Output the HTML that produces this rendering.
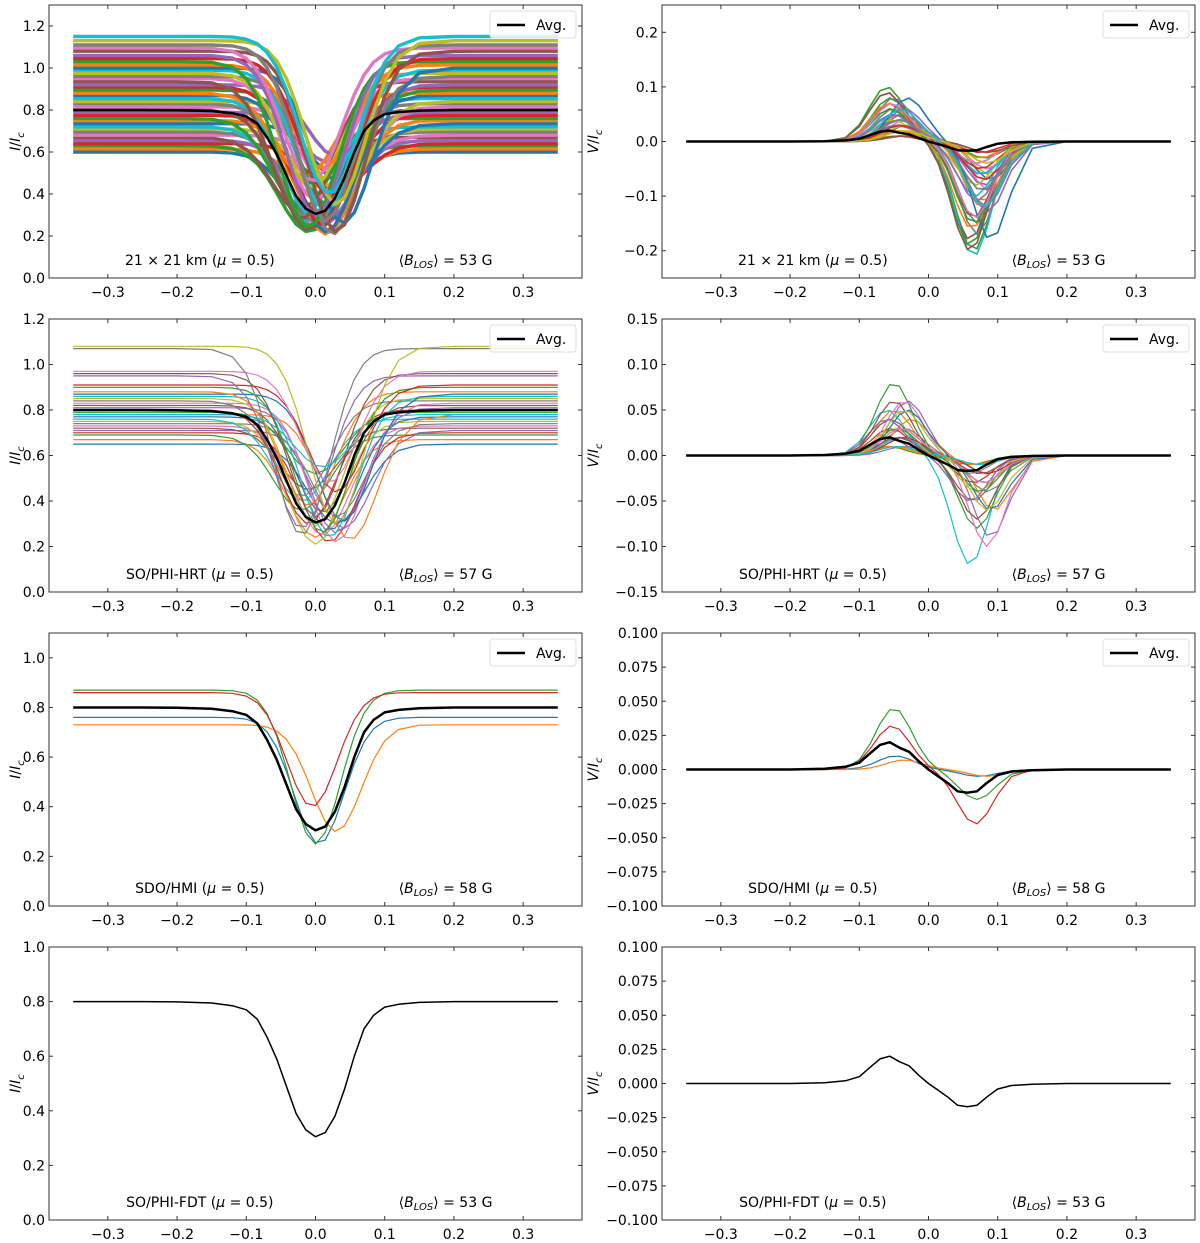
<!DOCTYPE html>
<html><head><meta charset="utf-8"><style>
html,body{margin:0;padding:0;background:#fff;}
svg{display:block;font-family:"DejaVu Sans","Liberation Sans",sans-serif;}
</style></head><body>
<svg id="fig" width="1200" height="1243" viewBox="0 0 1200 1243" xmlns="http://www.w3.org/2000/svg"></svg>
<script>
// Shared wavelength grid and average profiles
const wl = [-0.35,-0.3,-0.25,-0.2,-0.15,-0.12,-0.1,-0.084,-0.07,-0.056,-0.042,-0.028,-0.014,0,0.014,0.028,0.042,0.056,0.07,0.084,0.1,0.12,0.15,0.2,0.25,0.3,0.35];
const avgI = [0.80,0.80,0.80,0.799,0.795,0.785,0.77,0.735,0.67,0.59,0.49,0.39,0.33,0.305,0.32,0.38,0.48,0.60,0.70,0.75,0.78,0.79,0.797,0.80,0.80,0.80,0.80];
const avgV = [0,0,0,0,0.0005,0.002,0.005,0.012,0.018,0.02,0.016,0.013,0.006,0,-0.005,-0.01,-0.016,-0.017,-0.016,-0.01,-0.004,-0.0015,-0.0005,0,0,0,0];
const xTicks = [-0.3,-0.2,-0.1,0.0,0.1,0.2,0.3];
// Row 1 individual profiles
const cont1 = [0.60,0.615,0.63,0.64,0.655,0.67,0.68,0.695,0.71,0.72,0.735,0.75,0.76,0.775,0.79,0.80,0.815,0.83,0.84,0.855,0.87,0.88,0.895,0.91,0.92,0.935,0.95,0.96,0.975,0.99,1.0,1.015,1.03,1.045,1.06,1.08,1.095,1.11,1.13,1.15];
const core1 = [0.28,0.35,0.22,0.42,0.25,0.31,0.50,0.24,0.38,0.27,0.45,0.21,0.33,0.29,0.55,0.23,0.36,0.26,0.40,0.30,0.22,0.48,0.34,0.25,0.58,0.28,0.37,0.21,0.43,0.32,0.26,0.52,0.24,0.39,0.30,0.22,0.46,0.27,0.35,0.40];
const shift1 = [0.0,0.015,-0.01,0.03,0.01,-0.02,0.035,0.0,0.02,-0.01,0.04,0.015,-0.02,0.01,0.02,-0.01,0.03,0.0,0.035,-0.005,0.015,-0.015,0.02,0.01,0.03,-0.02,0.0,0.025,-0.005,0.015,0.04,0.01,-0.01,0.02,0.0,0.03,-0.005,0.015,0.03,0.02];
const vb1 = [0.02,0.05,0.08,0.01,0.03,0.09,0.04,0.06,0.02,0.07,0.03,0.05,0.10,0.01,0.04,0.06,0.02,0.08,0.03,0.05,0.04,0.07,0.01,0.03,0.06,0.09,0.02,0.05,0.04,0.03,0.08,0.02,0.06,0.03,0.05,0.01,0.07,0.04,0.02,0.06];
const vr1 = [0.04,0.12,0.20,0.02,0.06,0.18,0.09,0.15,0.03,0.21,0.07,0.11,0.19,0.02,0.08,0.14,0.05,0.17,0.06,0.10,0.09,0.16,0.03,0.05,0.13,0.20,0.04,0.12,0.08,0.06,0.18,0.03,0.15,0.07,0.11,0.02,0.14,0.09,0.04,0.12];
// Row 2 individual profiles
const cont2 = [0.65,0.67,0.69,0.70,0.71,0.72,0.73,0.74,0.75,0.76,0.77,0.78,0.79,0.80,0.81,0.82,0.83,0.84,0.85,0.86,0.87,0.88,0.90,0.91,0.95,0.96,0.97,1.07,1.08,0.78];
const core2 = [0.30,0.24,0.36,0.22,0.28,0.45,0.25,0.33,0.21,0.40,0.27,0.23,0.52,0.30,0.26,0.35,0.22,0.42,0.29,0.24,0.31,0.38,0.26,0.44,0.28,0.33,0.48,0.25,0.30,0.55];
const shift2 = [0.03,0.0,-0.02,0.02,0.04,-0.01,0.01,0.03,0.0,-0.02,0.02,0.05,0.0,-0.01,0.03,0.01,0.03,-0.02,0.0,0.02,0.04,-0.01,0.01,0.03,-0.02,0.0,0.02,-0.02,0.03,0.01];
const vb2 = [0.02,0.05,0.01,0.03,0.06,0.04,0.02,0.03,0.01,0.05,0.02,0.04,0.08,0.03,0.01,0.02,0.06,0.04,0.03,0.02,0.05,0.01,0.03,0.02,0.04,0.06,0.03,0.02,0.05,0.01];
const vr2 = [0.02,0.07,0.01,0.03,0.09,0.05,0.02,0.04,0.01,0.12,0.03,0.06,0.08,0.03,0.02,0.02,0.10,0.05,0.04,0.03,0.06,0.01,0.04,0.02,0.05,0.07,0.03,0.02,0.06,0.01];
// Row 3 individual (HMI) profiles
const cont3 = [0.76,0.73,0.87,0.86];
const core3 = [0.25,0.30,0.25,0.40];
const shift3 = [0.005,0.03,0.0,-0.005];
const vb3 = [0.010,0.007,0.045,0.032];
const vr3 = [0.005,0.005,0.022,0.040];
const tab10 = ["#1f77b4","#ff7f0e","#2ca02c","#d62728","#9467bd","#8c564b","#e377c2","#7f7f7f","#bcbd22","#17becf"];

const NS="http://www.w3.org/2000/svg";
const svg=document.getElementById('fig');
function mk(tag,attrs,parent){const e=document.createElementNS(NS,tag);for(const k in attrs)e.setAttribute(k,attrs[k]);(parent||svg).appendChild(e);return e;}
function gI(x,c,m,s,w){return c-(c-m)*Math.exp(-0.5*((x-s)/w)**2);}
function gV(x,b,r,s,w){return b*Math.exp(-0.5*((x-s+0.05)/w)**2)-r*Math.exp(-0.5*((x-s-0.07)/w)**2);}

const colL=[49,582], colR=[662,1195];
const rowsTop=[5,319,633,947], H=273;
const minus=s=>s.replace('-','\u2212');

function panel(cfg){
  const [x0,x1]=cfg.col, y0=cfg.top, y1=y0+H;
  const g=mk('g',{});
  
  
  const X=v=>x0+(v+0.385)/(0.77)*(x1-x0);
  const Y=v=>y1-(v-cfg.ymin)/(cfg.ymax-cfg.ymin)*H;
  const clipId='c'+cfg.name;
  const cp=mk('clipPath',{id:clipId},g);mk('rect',{x:x0,y:y0,width:x1-x0,height:H},cp);
  const lines=mk('g',{'clip-path':`url(#${clipId})`},g);
  
  
  (cfg.series||[]).forEach((ys,i)=>{
    const p=mk('polyline',{points:wl.map((x,j)=>X(x).toFixed(1)+','+Y(ys[j]).toFixed(1)).join(' '),fill:'none',stroke:tab10[i%10],'stroke-width':cfg.sw||1.2,'stroke-linejoin':'round'},lines);
    
    
  });
  const av=mk('polyline',{points:wl.map((x,j)=>X(x).toFixed(1)+','+Y(cfg.avg[j]).toFixed(1)).join(' '),fill:'none',stroke:'#000','stroke-width':cfg.avgW,'stroke-linejoin':'round'},lines);
  
  
  const fr=mk('rect',{x:x0,y:y0,width:x1-x0,height:H,fill:'none',stroke:'#333','stroke-width':1},g);
  
  
  xTicks.forEach(t=>{
    const px=X(t);
    mk('line',{x1:px,x2:px,y1:y1,y2:y1-4,stroke:'#333'},g);
    mk('line',{x1:px,x2:px,y1:y0,y2:y0+4,stroke:'#333'},g);
    const tx=mk('text',{x:px,y:y1+19,'font-size':14,'text-anchor':'middle',fill:'#000'},g);
    tx.textContent=minus(t.toFixed(1));
    
    
  });
  cfg.yticks.forEach(t=>{
    const py=Y(t);
    mk('line',{x1:x0,x2:x0+4,y1:py,y2:py,stroke:'#333'},g);
    mk('line',{x1:x1,x2:x1-4,y1:py,y2:py,stroke:'#333'},g);
    const tx=mk('text',{x:x0-4,y:py+5,'font-size':14,'text-anchor':'end',fill:'#000'},g);
    tx.textContent=minus(t.toFixed(cfg.dec));
    
    
  });
  const lx=cfg.col===colL?20:598;
  const yl=mk('text',{x:0,y:0,'font-size':14,'text-anchor':'middle',transform:`translate(${lx},${y0+H/2}) rotate(-90)`},g);
  yl.innerHTML=`<tspan font-style="italic">${cfg.ylab}</tspan>/<tspan font-style="italic">I</tspan><tspan font-style="italic" font-size="10" dy="4">c</tspan>`;
  
  
  const w=x1-x0;
  const a1=mk('text',{x:x0+0.283*w,y:y1-13,'font-size':14,'text-anchor':'middle'},g);
  a1.innerHTML=cfg.label+' (<tspan font-style="italic">μ</tspan> = 0.5)';
  
  
  const a2=mk('text',{x:x0+0.744*w,y:y1-13,'font-size':14,'text-anchor':'middle'},g);
  a2.innerHTML=`⟨<tspan font-style="italic">B</tspan><tspan font-style="italic" font-size="10" dy="3">LOS</tspan><tspan dy="-3">⟩ = ${cfg.B} G</tspan>`;
  
  
  if(cfg.legend){
    const lg=mk('g',{},g);
    
    
    mk('rect',{x:x1-92,y:y0+6,width:86,height:27,rx:3,fill:'#fff','fill-opacity':0.85,stroke:'#ddd'},lg);
    mk('line',{x1:x1-85,x2:x1-57,y1:y0+20,y2:y0+20,stroke:'#000','stroke-width':2.5},lg);
    const lt=mk('text',{x:x1-46,y:y0+25,'font-size':14},lg);lt.textContent='Avg.';
    
    
  }
}
const mkI=(c,m,s,w)=>c.map((cc,i)=>wl.map(x=>gI(x,cc,m[i],s[i],w)));
const mkV=(b,r,s)=>b.map((bb,i)=>wl.map(x=>gV(x,bb,r[i],s[i]*0.5,0.026)));
panel({name:'panel-i-21km',col:colL,top:rowsTop[0],ymin:0,ymax:1.3,yticks:[0,0.2,0.4,0.6,0.8,1.0,1.2],dec:1,ylab:'I',series:mkI(cont1,core1,shift1,0.042),sw:3.4,avg:avgI,avgW:2.5,label:'21 × 21 km',B:53,legend:true});
panel({name:'panel-v-21km',col:colR,top:rowsTop[0],ymin:-0.25,ymax:0.25,yticks:[-0.2,-0.1,0,0.1,0.2],dec:1,ylab:'V',series:mkV(vb1,vr1,shift1),sw:1.6,avg:avgV,avgW:2.5,label:'21 × 21 km',B:53,legend:true});
panel({name:'panel-i-hrt',col:colL,top:rowsTop[1],ymin:0,ymax:1.2,yticks:[0,0.2,0.4,0.6,0.8,1.0,1.2],dec:1,ylab:'I',series:mkI(cont2,core2,shift2,0.04),sw:1.2,avg:avgI,avgW:2.5,label:'SO/PHI-HRT',B:57,legend:true});
panel({name:'panel-v-hrt',col:colR,top:rowsTop[1],ymin:-0.15,ymax:0.15,yticks:[-0.15,-0.1,-0.05,0,0.05,0.1,0.15],dec:2,ylab:'V',series:mkV(vb2,vr2,shift2),sw:1.2,avg:avgV,avgW:2.5,label:'SO/PHI-HRT',B:57,legend:true});
panel({name:'panel-i-hmi',col:colL,top:rowsTop[2],ymin:0,ymax:1.1,yticks:[0,0.2,0.4,0.6,0.8,1.0],dec:1,ylab:'I',series:mkI(cont3,core3,shift3,0.036),sw:1.2,avg:avgI,avgW:2.5,label:'SDO/HMI',B:58,legend:true});
panel({name:'panel-v-hmi',col:colR,top:rowsTop[2],ymin:-0.1,ymax:0.1,yticks:[-0.1,-0.075,-0.05,-0.025,0,0.025,0.05,0.075,0.1],dec:3,ylab:'V',series:mkV(vb3,vr3,shift3),sw:1.2,avg:avgV,avgW:2.5,label:'SDO/HMI',B:58,legend:true});
panel({name:'panel-i-fdt',col:colL,top:rowsTop[3],ymin:0,ymax:1.0,yticks:[0,0.2,0.4,0.6,0.8,1.0],dec:1,ylab:'I',series:[],avg:avgI,avgW:1.5,label:'SO/PHI-FDT',B:53,legend:false});
panel({name:'panel-v-fdt',col:colR,top:rowsTop[3],ymin:-0.1,ymax:0.1,yticks:[-0.1,-0.075,-0.05,-0.025,0,0.025,0.05,0.075,0.1],dec:3,ylab:'V',series:[],avg:avgV,avgW:1.5,label:'SO/PHI-FDT',B:53,legend:false});
</script>
</body></html>
